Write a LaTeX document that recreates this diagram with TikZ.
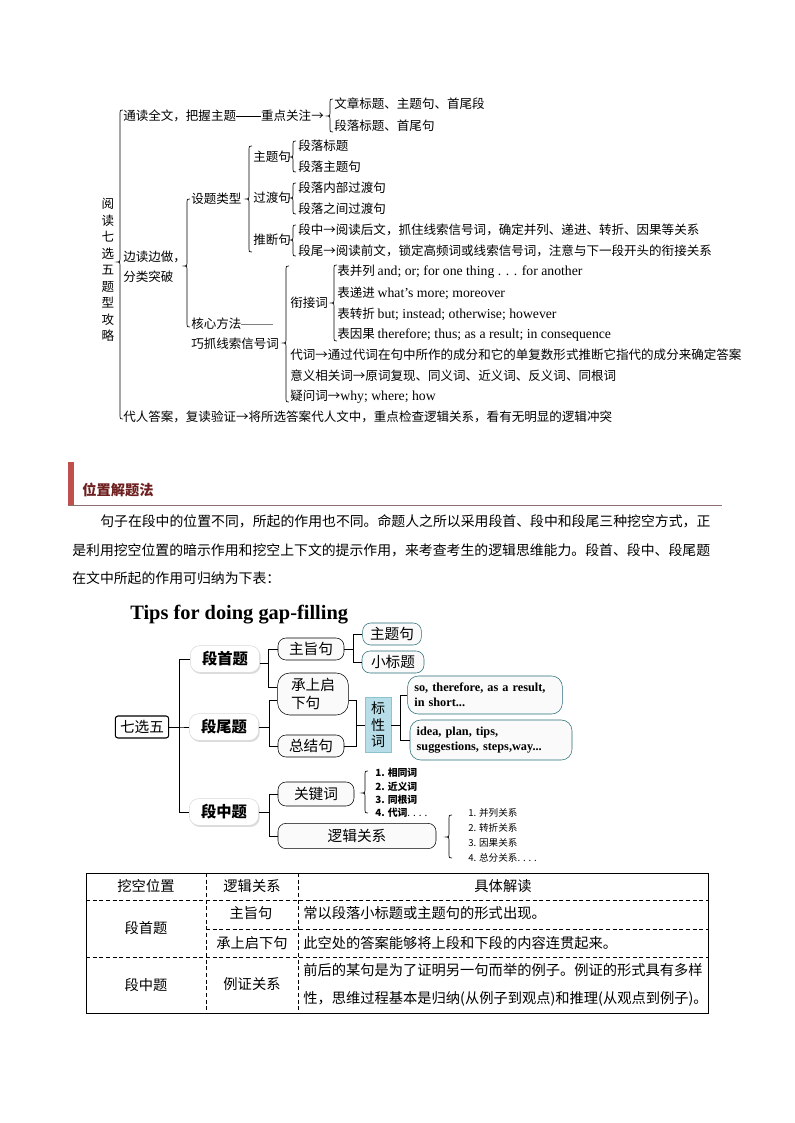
\documentclass[tikz,border=0pt]{standalone}
\usepackage{fontspec}
\setmainfont{Noto Sans CJK SC}
\newfontfamily\tnr{Liberation Serif}
\usetikzlibrary{calc,shadows}
\definecolor{HeadRed}{RGB}{192,80,77}
\definecolor{HeadText}{RGB}{110,30,30}
\definecolor{HeadRule}{RGB}{140,110,110}
\definecolor{MapTeal}{RGB}{40,110,120}
\definecolor{MapBlue}{RGB}{183,222,232}
\definecolor{MapBlueEdge}{RGB}{140,195,205}

% english words in the brace tree
\newcommand{\entxt}[1]{{\tnr\fontsize{10.3}{11}\selectfont #1}}

% curly brace opening to the right: x, top, tip, bottom (page pixels)
\newcommand{\cbrace}[4]{%
  \draw[bracestyle] ({#1+3},{-(#2)}) .. controls ({#1},{-(#2)}) .. ({#1},{-(#2)-3})
    -- ({#1},{-(#3)+3}) .. controls ({#1},{-(#3)}) .. ({#1-3},{-(#3)})
    .. controls ({#1},{-(#3)}) .. ({#1},{-(#3)-3})
    -- ({#1},{-(#4)+3}) .. controls ({#1},{-(#4)}) .. ({#1+3},{-(#4)});}

\begin{document}
\begin{tikzpicture}[
    x=0.75pt, y=0.75pt,
    txt/.style={
        anchor=west,
        inner sep=0pt,
        font=\fontsize{9.4}{11}\selectfont
    },
    bracestyle/.style={
        line width=0.5pt
    },
    para/.style={
        anchor=west,
        inner sep=0pt,
        font=\fontsize{10.4}{12}\selectfont
    },
    pill/.style={
        rectangle,
        rounded corners=7pt,
        fill=white,
        draw=gray!30,
        drop shadow={shadow xshift=0.8pt, shadow yshift=-1.2pt, fill=gray!55},
        minimum width=52pt,
        minimum height=20pt,
        inner sep=0pt,
        font=\bfseries\fontsize{11.5}{13}\selectfont
    },
    mbox/.style={
        rectangle,
        rounded corners=6pt,
        draw=black,
        fill=gray!4,
        minimum height=16.5pt,
        inner xsep=5pt,
        inner ysep=0pt,
        font=\fontsize{11}{13}\selectfont
    },
    tbox/.style={
        mbox,
        draw=MapTeal
    },
    ebox/.style={
        tbox,
        rounded corners=8pt,
        align=left,
        inner xsep=5pt,
        font=\tnr\bfseries\fontsize{9.2}{11}\selectfont
    },
    link/.style={
        line width=0.5pt
    },
    cell/.style={
        inner sep=0pt,
        font=\fontsize{10.7}{12}\selectfont
    }
]
\fill[white] (0,0) rectangle (794,-1123);
\useasboundingbox (0,0) rectangle (794,-1123);

% ---------- brace tree ----------
\node[inner sep=0pt, align=center, font=\fontsize{9.4}{12.4}\selectfont] (ydqx) at (108,-270)
{阅\\读\\七\\选\\五\\题\\型\\攻\\略};

\node[txt] (tdqw) at (123,-116) {通读全文，把握主题\rule[0.32em]{2em}{0.4pt}重点关注→};
\node[txt] (wzbt) at (334,-104) {文章标题、主题句、首尾段};
\node[txt] (dlbt) at (334,-126) {段落标题、首尾句};

\node[txt, align=left, font=\fontsize{9.4}{15}\selectfont] (bdbz) at (123,-267) {边读边做，\\分类突破};

\node[txt] (stlx) at (191,-199) {设题类型};
\node[txt] (ztj) at (253,-157) {主题句};
\node[txt] (ztja) at (298,-146) {段落标题};
\node[txt] (ztjb) at (298,-167) {段落主题句};
\node[txt] (gdj) at (253,-198) {过渡句};
\node[txt] (gdja) at (298,-188) {段落内部过渡句};
\node[txt] (gdjb) at (298,-209) {段落之间过渡句};
\node[txt] (tdj) at (253,-240) {推断句};
\node[txt] (tdja) at (298,-230) {段中→阅读后文，抓住线索信号词，确定并列、递进、转折、因果等关系};
\node[txt] (tdjb) at (298,-251) {段尾→阅读前文，锁定高频词或线索信号词，注意与下一段开头的衔接关系};

\node[txt] (hxff) at (191,-324) {核心方法\textcolor{gray}{\rule[0.32em]{2.5em}{0.4pt}}};
\node[txt] (qzxs) at (191,-344) {巧抓线索信号词};
\node[txt] (xjc) at (290,-303) {衔接词};
\node[txt] (bbl) at (337,-272) {表并列 \entxt{and; or; for one thing . . . for another}};
\node[txt] (bdj) at (337,-293) {表递进 \entxt{what’s more; moreover}};
\node[txt] (bzz) at (337,-314) {表转折 \entxt{but; instead; otherwise; however}};
\node[txt] (byg) at (337,-335) {表因果 \entxt{therefore; thus; as a result; in consequence}};
\node[txt] (dc) at (290,-355) {代词→通过代词在句中所作的成分和它的单复数形式推断它指代的成分来确定答案};
\node[txt] (yyxg) at (290,-376) {意义相关词→原词复现、同义词、近义词、反义词、同根词};
\node[txt] (ywc) at (290,-397) {疑问词→\entxt{why; where; how}};
\node[txt] (drda) at (123,-417) {代人答案，复读验证→将所选答案代人文中，重点检查逻辑关系，看有无明显的逻辑冲突};

\cbrace{120}{110}{262}{419}
\cbrace{330}{99}{116}{132}
\cbrace{187}{199}{266}{327}
\cbrace{249}{146}{199}{252}
\cbrace{293}{141}{157}{172}
\cbrace{293}{183}{198}{214}
\cbrace{293}{225}{240}{256}
\cbrace{286}{266}{343}{402}
\cbrace{334}{265}{303}{341}

% ---------- heading and text ----------
\fill[HeadRed] (68,-462) rectangle (74,-505);
\draw[HeadRule, line width=0.6pt] (68,-505) -- (722,-505);
\node[anchor=west, inner sep=0pt, text=HeadText, font=\bfseries\fontsize{10.7}{12}\selectfont] (wzjtf) at (82,-490) {位置解题法};

\node[para] (para1) at (100,-521) {句子在段中的位置不同，所起的作用也不同。命题人之所以采用段首、段中和段尾三种挖空方式，正};
\node[para] (para2) at (72,-550) {是利用挖空位置的暗示作用和挖空上下文的提示作用，来考查考生的逻辑思维能力。段首、段中、段尾题};
\node[para] (para3) at (72,-578) {在文中所起的作用可归纳为下表：};

% ---------- mind map ----------
\node[anchor=west, inner sep=0pt, font=\tnr\bfseries\fontsize{15.3}{17}\selectfont] (tips) at (130,-615) {Tips for doing gap-filling};

\node[rectangle, rounded corners=2pt, draw, line width=0.8pt, minimum width=40pt, minimum height=16.5pt, inner sep=0pt, font=\fontsize{11}{13}\selectfont] (qxw) at (142,-727) {七选五};

\node[pill] (dsq) at (225,-659) {段首题};
\node[pill] (dwt) at (224,-727) {段尾题};
\node[pill] (dzt) at (224,-812) {段中题};

\node[mbox, minimum width=49.5pt] (zzj) at (311,-649) {主旨句};
\node[tbox, minimum width=44pt] (ztjm) at (392,-634) {主题句};
\node[tbox, minimum width=46.5pt] (xbt) at (393,-662) {小标题};
\node[mbox, minimum width=53pt, minimum height=31.5pt, rounded corners=9pt, align=left] (csqx) at (313,-694) {承上启\\下句};
\node[mbox, minimum width=49.5pt] (zjj) at (311,-746) {总结句};
\node[rectangle, draw=MapBlueEdge, fill=MapBlue, minimum width=19.5pt, minimum height=41pt, inner sep=0pt, align=center, font=\fontsize{10.5}{12.5}\selectfont] (bxc) at (378,-725) {标\\性\\词};
\node[ebox, text width=106pt, minimum height=28.5pt] (ena) at (485,-695) {so, therefore, as a result,\\in short...};
\node[ebox, text width=111.5pt, minimum height=30pt] (enb) at (491,-740) {idea, plan, tips,\\suggestions, steps,way...};
\node[mbox, minimum width=57pt, minimum height=18pt] (gjc) at (316,-794) {关键词};
\node[mbox, minimum width=118.5pt, minimum height=19pt] (ljgx) at (357,-836) {逻辑关系\hspace{28pt}};

\node[anchor=west, inner sep=0pt, align=left, font=\bfseries\fontsize{7.4}{10.1}\selectfont] (gjcl) at (375,-793)
{1. 相同词\\2. 近义词\\3. 同根词\\4. 代词{\mdseries . . . .}};
\node[anchor=west, inner sep=0pt, align=left, font=\fontsize{7.2}{11.3}\selectfont] (ljgxl) at (468,-835)
{1. 并列关系\\2. 转折关系\\3. 因果关系\\4. 总分关系. . . .};

\draw[link] (qxw.east) -- ++(10,0) |- (dsq.west);
\draw[link] (qxw.east) -- ++(10,0) |- (dwt.west);
\draw[link] (qxw.east) -- ++(10,0) |- (dzt.west);

\draw[link] ([yshift=-3pt]dsq.east) -- ++(8,0) |- (zzj.west);
\draw[link] ([yshift=-3pt]dsq.east) -- ++(8,0) |- ([yshift=5pt]csqx.west);
\draw[link] (zzj.east) -- ++(9,0) |- (ztjm.west);
\draw[link] (zzj.east) -- ++(9,0) |- (xbt.west);

\draw[link] (dwt.east) -- ++(10,0) |- ([yshift=-4.5pt]csqx.west);
\draw[link] (dwt.east) -- ++(10,0) |- (zjj.west);
\draw[link] ([yshift=-4.5pt]csqx.east) -- ++(8,0) |- (zjj.east);
\draw[link] (bxc.west) -- ++(-8,0);
\draw[link] (bxc.east) -- ++(9,0) |- (ena.west);
\draw[link] (bxc.east) -- ++(9,0) |- (enb.west);

\draw[link] (dzt.east) -- ++(10,0) |- (gjc.west);
\draw[link] (dzt.east) -- ++(10,0) |- (ljgx.west);

\cbrace{365}{771}{793}{813}
\cbrace{449}{815}{837}{858}

% ---------- table ----------
\draw[line width=0.6pt] (86,-873) rectangle (708,-1013);
\draw[dash pattern=on 3pt off 2pt, line width=0.5pt]
    (206,-873) -- (206,-1013)
    (298,-873) -- (298,-1013)
    (86,-900) -- (708,-900)
    (206,-929) -- (708,-929)
    (86,-957) -- (708,-957);

\node[cell] (hwk) at (146,-886) {挖空位置};
\node[cell] (hlj) at (252,-886) {逻辑关系};
\node[cell] (hjt) at (503,-886) {具体解读};
\node[cell] (cdsq) at (146,-928) {段首题};
\node[cell] (czzj) at (251,-913) {主旨句};
\node[cell] (ccsq) at (252,-943) {承上启下句};
\node[cell, anchor=west] (czzjd) at (303,-913) {常以段落小标题或主题句的形式出现。};
\node[cell, anchor=west] (ccsqd) at (303,-943) {此空处的答案能够将上段和下段的内容连贯起来。};
\node[cell] (cdzt) at (146,-985) {段中题};
\node[cell] (clzgx) at (252,-984) {例证关系};
\node[cell, anchor=west, align=left, font=\fontsize{10.7}{21}\selectfont] (clzd) at (303,-985)
{前后的某句是为了证明另一句而举的例子。例证的形式具有多样\\性，思维过程基本是归纳(从例子到观点)和推理(从观点到例子)。};

\end{tikzpicture}
\end{document}
